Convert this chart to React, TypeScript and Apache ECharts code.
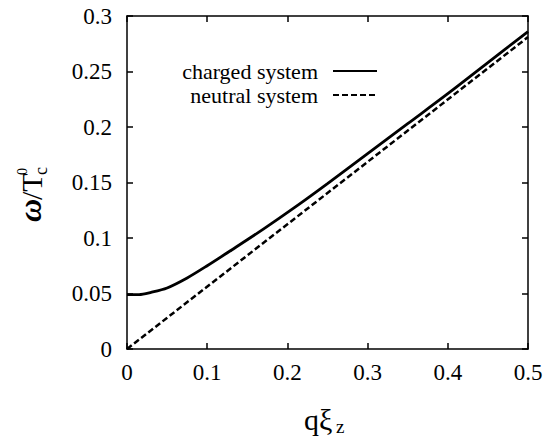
import React, { useEffect, useRef } from "react";
import * as echarts from "echarts";

// q·ξz values sampled along each dispersion curve
const qCharged = [0, 0.015, 0.03, 0.05, 0.075, 0.1, 0.13, 0.17, 0.21, 0.25, 0.3, 0.35, 0.4, 0.45, 0.5];
const omegaCharged = [0.049, 0.049, 0.051, 0.055, 0.064, 0.075, 0.089, 0.108, 0.128, 0.149, 0.176, 0.203, 0.23, 0.258, 0.286];
const qNeutral = [0, 0.5];
const omegaNeutral = [0, 0.281];

const seriesNames = ["charged system", "neutral system"];

const FONT = "Liberation Serif";

export default function App() {
  const ref = useRef<HTMLDivElement>(null);

  useEffect(() => {
    if (!ref.current) return;
    const chart = echarts.init(ref.current, undefined, { renderer: "svg" });

    const axisCommon = {
      axisLine: { show: true, onZero: false, lineStyle: { color: "#000", width: 1.5 } },
      axisTick: { show: true, inside: true, length: 6, lineStyle: { color: "#000", width: 1.5 } },
      splitLine: { show: false },
    };

    // one legend row per series, stacked with the row pitch of the key
    const legendRow = (name: string, top: number) => ({
      orient: "horizontal",
      right: 179,
      top,
      padding: 0,
      align: "right",
      itemWidth: 44,
      itemHeight: 14,
      selectedMode: false,
      itemStyle: { opacity: 0 },
      textStyle: {
        fontFamily: FONT,
        fontSize: 22,
        lineHeight: 22,
        color: "#000",
        padding: [0, 10, 0, 0],
      },
      data: [name],
    });

    chart.setOption({
      animation: false,
      backgroundColor: "#fff",
      textStyle: { fontFamily: FONT },
      grid: { left: 127, top: 16, right: 29, bottom: 88, containLabel: false },
      legend: [legendRow(seriesNames[0], 60), legendRow(seriesNames[1], 84)],
      xAxis: [
        {
          ...axisCommon,
          type: "value",
          min: 0,
          max: 0.5,
          interval: 0.1,
          position: "bottom",
          axisLabel: { fontFamily: FONT, fontSize: 23, color: "#000", margin: 12 },
        },
        {
          ...axisCommon,
          type: "value",
          min: 0,
          max: 0.5,
          interval: 0.1,
          position: "top",
          axisLabel: { show: false },
        },
      ],
      yAxis: [
        {
          ...axisCommon,
          type: "value",
          min: 0,
          max: 0.3,
          interval: 0.05,
          position: "left",
          axisLabel: { fontFamily: FONT, fontSize: 23, color: "#000", margin: 15 },
        },
        {
          ...axisCommon,
          type: "value",
          min: 0,
          max: 0.3,
          interval: 0.05,
          position: "right",
          axisLabel: { show: false },
        },
      ],
      series: [
        {
          name: seriesNames[0],
          type: "line",
          symbol: "none",
          smooth: 0.3,
          data: qCharged.map((q, i) => [q, omegaCharged[i]]),
          lineStyle: { color: "#000", width: 2.8, type: "solid" },
          itemStyle: { color: "#000" },
        },
        {
          name: seriesNames[1],
          type: "line",
          symbol: "none",
          data: qNeutral.map((q, i) => [q, omegaNeutral[i]]),
          lineStyle: { color: "#000", width: 2.5, type: [6, 3] },
          itemStyle: { color: "#000" },
        },
      ],
      graphic: [
        // x-axis title: q ξ_z
        {
          type: "text",
          x: 304,
          y: 434,
          style: {
            text: "qξ",
            font: `30px ${FONT}`,
            fill: "#000",
            textAlign: "left",
            textVerticalAlign: "bottom",
          },
        },
        {
          type: "text",
          x: 336,
          y: 436,
          style: {
            text: "z",
            font: `19px ${FONT}`,
            fill: "#000",
            textAlign: "left",
            textVerticalAlign: "bottom",
          },
        },
        // y-axis title: ω / T_c^0, read bottom to top
        {
          type: "group",
          x: 46,
          y: 222,
          rotation: Math.PI / 2,
          children: [
            {
              type: "text",
              x: 0,
              y: 0,
              style: {
                text: "ω",
                font: `italic bold 32px ${FONT}`,
                fill: "#000",
                textAlign: "left",
                textVerticalAlign: "bottom",
              },
            },
            {
              type: "text",
              x: 22,
              y: 0,
              style: {
                text: "/T",
                font: `30px ${FONT}`,
                fill: "#000",
                textAlign: "left",
                textVerticalAlign: "bottom",
              },
            },
            {
              type: "text",
              x: 47,
              y: 4,
              style: {
                text: "c",
                font: `18px ${FONT}`,
                fill: "#000",
                textAlign: "left",
                textVerticalAlign: "bottom",
              },
            },
            {
              type: "text",
              x: 47,
              y: -17,
              style: {
                text: "0",
                font: `14px ${FONT}`,
                fill: "#000",
                textAlign: "left",
                textVerticalAlign: "bottom",
              },
            },
          ],
        },
      ],
    });

    return () => chart.dispose();
  }, []);

  return (
    <div
      ref={ref}
      style={{ position: "absolute", left: 0, top: 0, width: 557, height: 437 }}
    />
  );
}
